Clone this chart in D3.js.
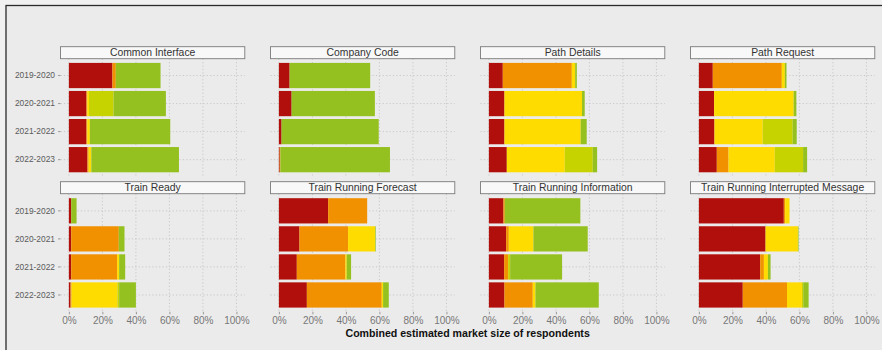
<!DOCTYPE html>
<html>
<head>
<meta charset="utf-8">
<script src="https://cdn.jsdelivr.net/npm/d3@7"></script>
<style>
html,body{margin:0;padding:0;background:#f1f1f1;}
svg{display:block;}
</style>
</head>
<body>
<svg id="chart" width="882" height="350"></svg>
<script>
// ---- data (percent of combined estimated market size) ----
const panels = ["Common Interface","Company Code","Path Details","Path Request",
  "Train Ready","Train Running Forecast","Train Running Information","Train Running Interrupted Message"];
const years = ["2019-2020","2020-2021","2021-2022","2022-2023"];
const statuses = ["s1","s2","s3","s4","s5"];
const statusColors = ["#b10f0b","#f29100","#ffdc00","#c6d300","#94c11f"];
const xTicks = [0,20,40,60,80,100];
const xTickLabels = ["0%","20%","40%","60%","80%","100%"];
const axisTitle = "Combined estimated market size of respondents";

// each array: one row per panel, one value per year
const s1 = [[26,10.5,10.5,11.1],[6.4,7.6,1.6,0.5],[8.3,9.3,9.3,10.7],[8.3,9.1,9.3,10.7],
            [1.4,1.4,1.4,1.0],[29.4,12.3,10.7,16.7],[8.7,10.3,9.1,9.3],[50.7,39.8,36.6,26.2]];
const s2 = [[2,0.5,0.5,0.7],[0,0,0,0.4],[41.2,0,0,0],[41.2,0,0,7],
            [0,28.4,27.4,0.6],[23.3,29,29,44.7],[0.8,1.6,2.4,16.9],[0.8,0,2.2,26.4]];
const s3 = [[0,1,1.5,1.6],[0,0,0,0],[2,46.3,45.5,34.6],[1.8,47.5,28.8,27.6],
            [0,0,1.2,27.4],[0,16.1,0.8,0.8],[0,14.7,0,1.6],[2.6,19.3,2.4,8.9]];
const s4 = [[0,14.7,0,0],[0,0,0,0],[0,0,0,16.7],[0,0,17.9,16.9],
            [0,0,0,1],[0,0,0,0],[0,0,1.2,0],[0,0,0,0.8]];
const s5 = [[26.7,31.2,48,52.3],[48.1,49.7,58,65.4],[1,1.6,3.6,2.6],[1,1.6,2.4,2.4],
            [3.2,3.4,3.6,10],[0,0.4,2.6,3.4],[45.1,32.4,31,37.8],[0,0.4,1.6,3.2]];
const seriesValues = [s1,s2,s3,s4,s5];

// ---- layout ----
const svg = d3.select("#chart");
svg.append("rect").attr("x",6).attr("y",5.5).attr("width",880).attr("height",350)
  .attr("fill","#ebebeb").attr("stroke","#2b2b2b").attr("stroke-width",1.3);

const panelLeft0 = 60.5, panelW = 184.3, panelGap = 210;
const rows = [{stripTop:46.7, top:58.7}, {stripTop:181.7, top:194}];
const stripH = 12, panelH = 117.8;

const x0 = d3.scaleLinear().domain([-5,105]);
const grid = "#c4c4c4";

panels.forEach((name, pi) => {
  const col = pi % 4, row = Math.floor(pi / 4);
  const left = panelLeft0 + col * panelGap;
  const r = rows[row];
  const x = x0.copy().range([left, left + panelW]);
  const y = d3.scaleBand().domain(years).range([r.top, r.top + panelH])
    .paddingInner(0.1).paddingOuter(0.15);
  const g = svg.append("g");

  // grid
  g.selectAll(".vg").data(xTicks).join("line")
    .attr("x1", d => x(d)).attr("x2", d => x(d))
    .attr("y1", r.top).attr("y2", r.top + panelH)
    .attr("stroke", grid).attr("stroke-width", 0.9).attr("stroke-dasharray","1.2,2.2");
  g.selectAll(".hg").data(years).join("line")
    .attr("x1", left).attr("x2", left + panelW)
    .attr("y1", d => y(d) + y.bandwidth()/2).attr("y2", d => y(d) + y.bandwidth()/2)
    .attr("stroke", grid).attr("stroke-width", 0.9).attr("stroke-dasharray","1.2,2.2");

  // stacked bars
  years.forEach((yr, yi) => {
    let cum = 0;
    seriesValues.forEach((sv, si) => {
      const v = sv[pi][yi];
      if (v > 0) {
        g.append("rect")
          .attr("x", x(cum)).attr("width", x(cum + v) - x(cum))
          .attr("y", y(yr)).attr("height", y.bandwidth())
          .attr("fill", statusColors[si]);
      }
      cum += v;
    });
  });

  // strip
  g.append("rect").attr("x", left).attr("y", r.stripTop).attr("width", panelW).attr("height", stripH)
    .attr("fill", "#f8f8f8").attr("stroke", "#7a7a7a").attr("stroke-width", 0.9);
  g.append("text").attr("x", left + panelW/2).attr("y", r.stripTop + stripH/2 + 0.5)
    .attr("text-anchor","middle").attr("dominant-baseline","middle")
    .attr("font-family","Liberation Sans, Arial, sans-serif").attr("font-size", 10.4)
    .attr("fill","#333").text(name);

  // y axis labels (first column)
  if (col === 0) {
    const ya = d3.axisLeft(y).tickSize(2.5).tickPadding(3);
    const ag = svg.append("g").attr("transform", `translate(${left},0)`).call(ya);
    ag.select(".domain").remove();
    ag.selectAll(".tick line").attr("stroke", "#9a9a9a");
    ag.selectAll(".tick text").attr("font-family","Liberation Sans, Arial, sans-serif")
      .attr("font-size", 8.4).attr("fill","#5a5a5a");
  }
  // x axis (bottom row)
  if (row === 1) {
    const xa = d3.axisBottom(x).tickValues(xTicks).tickFormat((d,i) => xTickLabels[i])
      .tickSize(2.5).tickPadding(3);
    const ag = svg.append("g").attr("transform", `translate(0,${r.top + panelH})`).call(xa);
    ag.select(".domain").remove();
    ag.selectAll(".tick line").attr("stroke", "#9a9a9a");
    ag.selectAll(".tick text").attr("font-family","Liberation Sans, Arial, sans-serif")
      .attr("font-size", 10).attr("fill","#777");
  }
});

svg.append("text").attr("x", panelLeft0 + (3*panelGap + panelW)/2).attr("y", 337)
  .attr("text-anchor","middle").attr("font-family","Liberation Sans, Arial, sans-serif")
  .attr("font-weight","bold").attr("font-size", 10.6).attr("fill","#111").text(axisTitle);
</script>
</body>
</html>
